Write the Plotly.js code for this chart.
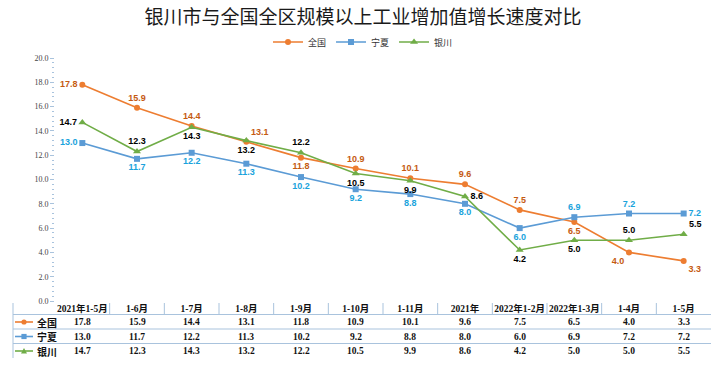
<!DOCTYPE html>
<html>
<head>
<meta charset="utf-8">
<script src="https://cdn.plot.ly/plotly-3.0.1.min.js"></script>
<style>html,body{margin:0;padding:0;background:#fff;}#chart{width:726px;height:365px;}</style>
</head>
<body>
<div id="chart"></div>
<script>
const categories = ['2021年1-5月','1-6月','1-7月','1-8月','1-9月','1-10月','1-11月','2021年','2022年1-2月','2022年1-3月','1-4月','1-5月'];
const seriesNames = ['全国','宁夏','银川'];
const national = [17.8, 15.9, 14.4, 13.1, 11.8, 10.9, 10.1, 9.6, 7.5, 6.5, 4.0, 3.3];
const ningxia  = [13.0, 11.7, 12.2, 11.3, 10.2, 9.2, 8.8, 8.0, 6.0, 6.9, 7.2, 7.2];
const yinchuan = [14.7, 12.3, 14.3, 13.2, 12.2, 10.5, 9.9, 8.6, 4.2, 5.0, 5.0, 5.5];

const W = 726, H = 365, ML = 55, MR = 15, MT = 58, MB = 64;
const PW = W - ML - MR, PH = H - MT - MB;
const px2x = p => (p - ML) / PW;
const py2y = p => (H - MB - p) / PH;

const colors = ['#ED7D31', '#5B9BD5', '#70AD47'];
const labelColors = ['#C55A11', '#1AA3DC', '#000000'];
const symbols = ['circle', 'square', 'triangle-up'];
const seriesData = [national, ningxia, yinchuan];

const pos = [
  ['middle left','top center','top center','top right','bottom center','top center','top center','top center','top center','bottom center','bottom left','bottom right'],
  ['middle left','bottom center','bottom center','bottom center','bottom center','bottom center','bottom center','bottom center','bottom center','top center','top center','middle right'],
  ['middle left','top center','bottom center','bottom center','top center','bottom center','bottom center','middle right','bottom center','bottom center','top center','top right']
];

const traces = seriesData.map((d, i) => ({
  type: 'scatter', mode: 'lines+markers+text',
  name: seriesNames[i], x: categories, y: d,
  text: d.map(v => '<b>' + v.toFixed(1) + '</b>'),
  textposition: pos[i],
  textfont: {family: 'Liberation Sans, Arial', size: 9, color: labelColors[i]},
  line: {color: colors[i], width: 1.6},
  marker: {symbol: symbols[i], size: i === 2 ? 7 : 6, color: colors[i]},
  cliponaxis: false
}));

const fontFam = 'Liberation Serif, Noto Sans CJK SC';
const annotations = [];
const shapes = [];
const rowPy = [322, 336.5, 351];
const gridColor = '#A9C3DD';

// table values
seriesData.forEach((d, i) => {
  d.forEach((v, j) => {
    annotations.push({xref: 'x', yref: 'paper', x: j, y: py2y(rowPy[i]), text: '<b>' + v.toFixed(1) + '</b>',
      showarrow: false, xanchor: 'center', yanchor: 'middle', font: {family: fontFam, size: 9.5, color: '#111'}});
  });
  annotations.push({xref: 'paper', yref: 'paper', x: px2x(35), y: py2y(rowPy[i]), text: '<b>' + seriesNames[i] + '</b>',
    showarrow: false, xanchor: 'left', yanchor: 'middle', font: {family: 'Noto Sans CJK SC', size: 10, color: '#111'}});
  // key line
  shapes.push({type: 'line', xref: 'paper', yref: 'paper', x0: px2x(15), x1: px2x(33), y0: py2y(rowPy[i]), y1: py2y(rowPy[i]),
    line: {color: colors[i], width: 1.6}});
  const cx = 24, cy = rowPy[i], r = 2.6;
  if (i === 0) {
    shapes.push({type: 'circle', xref: 'paper', yref: 'paper', x0: px2x(cx - r), x1: px2x(cx + r), y0: py2y(cy + r), y1: py2y(cy - r),
      fillcolor: colors[i], line: {width: 0}});
  } else if (i === 1) {
    shapes.push({type: 'rect', xref: 'paper', yref: 'paper', x0: px2x(cx - r), x1: px2x(cx + r), y0: py2y(cy + r), y1: py2y(cy - r),
      fillcolor: colors[i], line: {width: 0}});
  } else {
    shapes.push({type: 'path', xref: 'paper', yref: 'paper',
      path: 'M ' + px2x(cx - 3) + ' ' + py2y(cy + 2.5) + ' L ' + px2x(cx + 3) + ' ' + py2y(cy + 2.5) + ' L ' + px2x(cx) + ' ' + py2y(cy - 3) + ' Z',
      fillcolor: colors[i], line: {width: 0}});
  }
});

// table grid
[314.5, 329, 343.5].forEach(p => {
  shapes.push({type: 'line', xref: 'paper', yref: 'paper', x0: px2x(13), x1: px2x(711), y0: py2y(p), y1: py2y(p),
    line: {color: gridColor, width: 1}});
});
shapes.push({type: 'line', xref: 'paper', yref: 'paper', x0: px2x(13), x1: px2x(13), y0: py2y(303), y1: py2y(358),
  line: {color: gridColor, width: 1}});
for (let k = 0; k < categories.length - 1; k++) {
  shapes.push({type: 'line', xref: 'x', yref: 'paper', x0: k + 0.5, x1: k + 0.5, y0: py2y(303), y1: py2y(314.5),
    line: {color: gridColor, width: 1}});
}

const layout = {
  width: W, height: H,
  margin: {l: ML, r: MR, t: MT, b: MB},
  paper_bgcolor: '#fff', plot_bgcolor: '#fff',
  title: {text: '银川市与全国全区规模以上工业增加值增长速度对比', font: {family: 'Noto Sans CJK SC', size: 19, color: '#1a1a1a'},
    x: 0.5, xref: 'container', xanchor: 'center', y: 1 - 17 / H, yref: 'container', yanchor: 'middle'},
  showlegend: true,
  legend: {orientation: 'h', xref: 'container', x: 0.5, xanchor: 'center', yref: 'container', y: 1 - 42 / H, yanchor: 'middle',
    font: {family: 'Noto Sans CJK SC', size: 9, color: '#333'}, itemwidth: 30, tracegroupgap: 0},
  xaxis: {type: 'category', tickvals: categories, ticktext: categories.map(c => '<b>' + c + '</b>'),
    tickfont: {family: fontFam, size: 9.5, color: '#111'}, showgrid: false, zeroline: false, showline: false, ticks: '',
    range: [-0.5, categories.length - 0.5]},
  yaxis: {range: [0, 20], dtick: 2, tickformat: '.1f', showgrid: false, zeroline: false, showline: false,
    ticks: 'outside', ticklen: 4, tickcolor: '#A9C3DD', tickwidth: 1,
    minor: {dtick: 0.4, ticks: 'outside', ticklen: 2, tickcolor: '#A9C3DD'},
    tickfont: {family: 'Liberation Serif', size: 8, color: '#444'}},
  annotations: annotations,
  shapes: shapes
};

Plotly.newPlot('chart', traces, layout, {displayModeBar: false});
</script>
</body>
</html>
